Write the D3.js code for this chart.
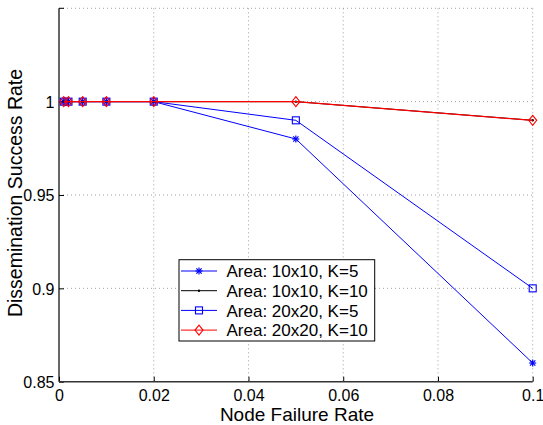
<!DOCTYPE html>
<html>
<head>
<meta charset="utf-8">
<script src="https://cdn.jsdelivr.net/npm/d3@7"></script>
<style>
  html, body { margin: 0; padding: 0; background: #fff; }
  svg { display: block; }
  text { font-family: "Liberation Sans", Arial, Helvetica, sans-serif; fill: #000; }
</style>
</head>
<body>
<svg id="chart" width="543" height="425"></svg>
<script>
// Node failure rates on the x axis
const failureRates = [0.001, 0.002, 0.005, 0.01, 0.02, 0.05, 0.1];

// Dissemination success rate per configuration
const area10K5  = [1, 1, 1, 1, 1, 0.98, 0.86];
const area10K10 = [1, 1, 1, 1, 1, 1, 0.99];
const area20K5  = [1, 1, 1, 1, 1, 0.99, 0.90];
const area20K10 = [1, 1, 1, 1, 1, 1, 0.99];

const seriesNames = ["Area: 10x10, K=5", "Area: 10x10, K=10", "Area: 20x20, K=5", "Area: 20x20, K=10"];

const xTicks = [0, 0.02, 0.04, 0.06, 0.08, 0.1];
const yTicks = [0.85, 0.9, 0.95, 1];
const yGrid  = [0.9, 0.95, 1, 1.05];

const series = [
  { name: seriesNames[0], values: area10K5,  color: "#0000ff", marker: "star" },
  { name: seriesNames[1], values: area10K10, color: "#000000", marker: "dot" },
  { name: seriesNames[2], values: area20K5,  color: "#0000ff", marker: "square" },
  { name: seriesNames[3], values: area20K10, color: "#ff0000", marker: "diamond" }
];

const svg = d3.select("#chart");
const plotLeft = 59, plotRight = 532.7, plotTop = 8.3, plotBottom = 381.7;

const x = d3.scaleLinear().domain([0, 0.1]).range([plotLeft, plotRight]);
const y = d3.scaleLinear().domain([0.85, 1.05]).range([plotBottom, plotTop]);

// dotted grid
const grid = svg.append("g").attr("stroke", "#8a8a8a").attr("stroke-width", 0.8)
  .attr("stroke-dasharray", "1,3");
grid.selectAll("line.vx").data(xTicks.slice(1)).join("line")
  .attr("x1", d => x(d)).attr("x2", d => x(d)).attr("y1", plotTop).attr("y2", plotBottom);
grid.selectAll("line.hy").data(yGrid).join("line")
  .attr("x1", plotLeft).attr("x2", plotRight).attr("y1", d => y(d)).attr("y2", d => y(d));

// axes
const fmt = d => String(+d.toFixed(2));
const xAxis = d3.axisBottom(x).tickValues(xTicks).tickSize(-5).tickPadding(7).tickFormat(fmt);
const gx = svg.append("g").attr("transform", `translate(0,${plotBottom})`).call(xAxis);
const yAxis = d3.axisLeft(y).tickValues(yTicks).tickSize(-5).tickPadding(4.5).tickFormat(fmt);
const gy = svg.append("g").attr("transform", `translate(${plotLeft},0)`).call(yAxis);
[gx, gy].forEach(g => {
  g.select(".domain").remove();
  g.selectAll(".tick line").attr("stroke", "#000").attr("stroke-width", 1);
  g.selectAll(".tick text").style("font-size", "16px").attr("fill", "#000");
});
gy.selectAll(".tick text").attr("dy", "0.36em");
gx.selectAll(".tick text").attr("dy", "0.75em");

svg.append("line").attr("x1", plotLeft).attr("x2", plotLeft).attr("y1", plotTop).attr("y2", plotBottom)
  .attr("stroke", "#000").attr("stroke-width", 1.2);
svg.append("line").attr("x1", plotLeft).attr("x2", plotLeft + 5).attr("y1", plotTop).attr("y2", plotTop)
  .attr("stroke", "#000").attr("stroke-width", 1);
svg.append("line").attr("x1", plotLeft).attr("x2", plotRight).attr("y1", plotBottom).attr("y2", plotBottom)
  .attr("stroke", "#333").attr("stroke-width", 1.6);

// marker drawing
function drawMarker(g, type, cx, cy, color) {
  if (type === "star") {
    const r = 3.5;
    const p = g.append("g").attr("stroke", color).attr("stroke-width", 1.2);
    p.append("line").attr("x1", cx - r).attr("x2", cx + r).attr("y1", cy).attr("y2", cy);
    p.append("line").attr("x1", cx).attr("x2", cx).attr("y1", cy - r).attr("y2", cy + r);
    p.append("line").attr("x1", cx - r * 0.75).attr("x2", cx + r * 0.75).attr("y1", cy - r * 0.75).attr("y2", cy + r * 0.75);
    p.append("line").attr("x1", cx - r * 0.75).attr("x2", cx + r * 0.75).attr("y1", cy + r * 0.75).attr("y2", cy - r * 0.75);
  } else if (type === "dot") {
    g.append("circle").attr("cx", cx).attr("cy", cy).attr("r", 1.2).attr("fill", color);
  } else if (type === "square") {
    g.append("rect").attr("x", cx - 3.5).attr("y", cy - 3.5).attr("width", 7).attr("height", 7)
      .attr("fill", "none").attr("stroke", color).attr("stroke-width", 1.1);
  } else if (type === "diamond") {
    g.append("path").attr("d", `M${cx},${cy - 5}L${cx + 4},${cy}L${cx},${cy + 5}L${cx - 4},${cy}Z`)
      .attr("fill", "none").attr("stroke", color).attr("stroke-width", 1.1);
  }
}

const line = d3.line().x(d => x(d[0])).y(d => y(d[1]));
const plot = svg.append("g");
series.forEach(s => {
  const pts = failureRates.map((r, i) => [r, s.values[i]]);
  plot.append("path").datum(pts).attr("d", line).attr("fill", "none")
    .attr("stroke", s.color).attr("stroke-width", s.marker === "diamond" ? 1.3 : 1);
  const mg = plot.append("g");
  pts.forEach(p => drawMarker(mg, s.marker, x(p[0]), y(p[1]), s.color));
});

// legend
const lg = svg.append("g");
lg.append("rect").attr("x", 179).attr("y", 259.7).attr("width", 195.7).attr("height", 81.3)
  .attr("fill", "#fff").attr("stroke", "#000").attr("stroke-width", 1);
series.forEach((s, i) => {
  const ly = 271 + i * 19.7;
  lg.append("line").attr("x1", 181).attr("x2", 217).attr("y1", ly).attr("y2", ly)
    .attr("stroke", s.color).attr("stroke-width", 1);
  drawMarker(lg, s.marker, 199, ly, s.color);
  lg.append("text").attr("x", 226.5).attr("y", ly).attr("dy", "0.36em")
    .style("font-size", "17px").text(s.name);
});

// axis titles
svg.append("text").attr("x", 297).attr("y", 420.5).attr("text-anchor", "middle")
  .style("font-size", "19px").text("Node Failure Rate");
svg.append("text").attr("transform", "translate(22,193) rotate(-90)").attr("text-anchor", "middle")
  .style("font-size", "19.5px").text("Dissemination Success Rate");
</script>
</body>
</html>
